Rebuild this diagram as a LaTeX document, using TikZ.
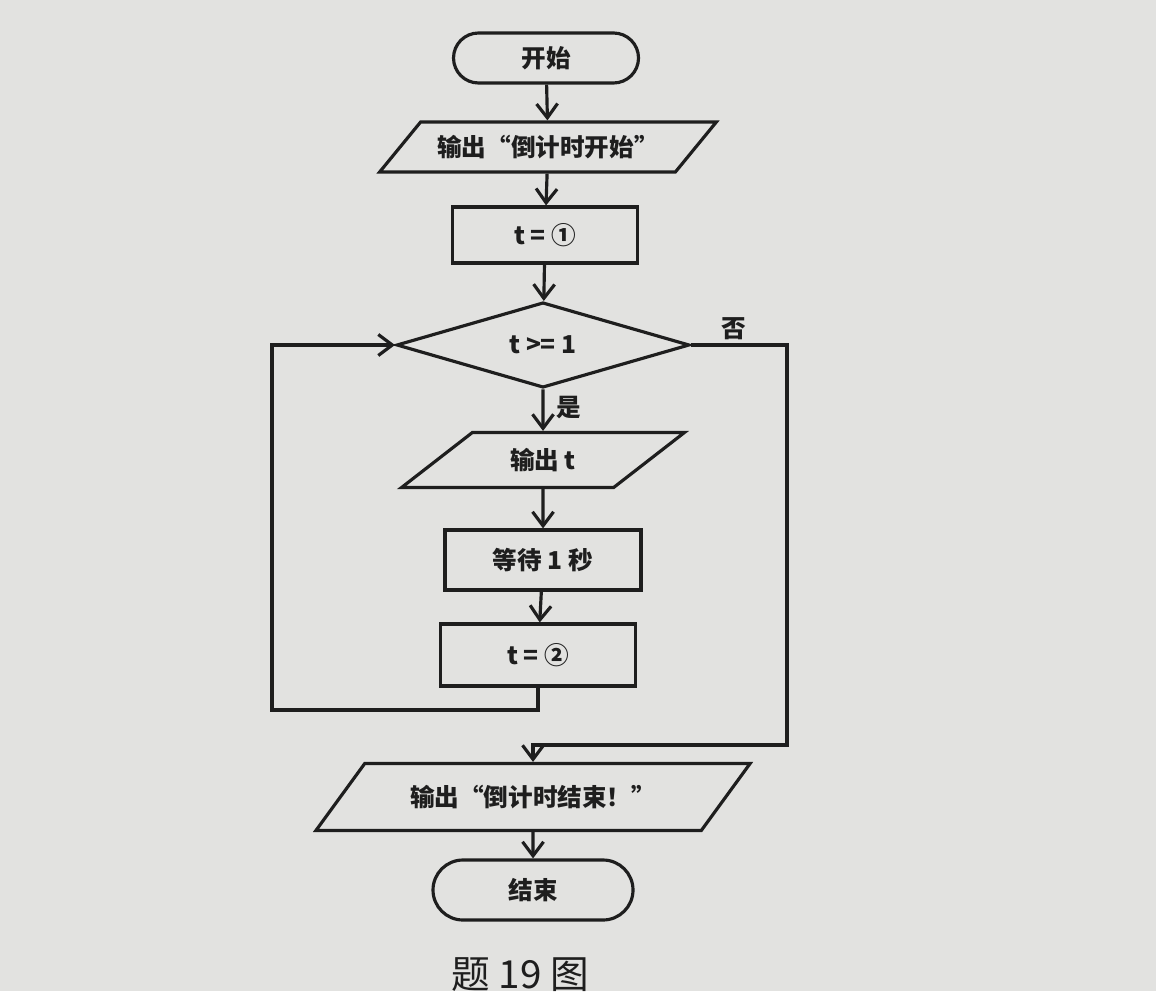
\documentclass[tikz,border=0pt]{standalone}
\usepackage{fontspec}
\setmainfont{Noto Sans CJK SC}
\usetikzlibrary{shapes.geometric,arrows.meta}
\definecolor{paper}{RGB}{226,226,224}
\definecolor{ink}{RGB}{30,30,30}

\begin{document}
\begin{tikzpicture}[>={Straight Barb[length=1.4mm,width=2.1mm]},
  line width=0.9pt,draw=ink,
  every node/.style={font=\fontsize{7}{8}\selectfont\bfseries,text=ink},
  term/.style={draw=ink,rectangle,rounded corners=0.25cm,minimum width=1.85cm,minimum height=0.5cm},
  proc/.style={draw=ink,rectangle,minimum width=1.85cm,minimum height=0.56cm},
  io/.style={draw=ink,trapezium,trapezium left angle=40,trapezium right angle=140,trapezium stretches=true,inner sep=1pt},
  test/.style={draw=ink,diamond,minimum width=2.93cm,minimum height=0.8cm,inner sep=0pt},
  flow/.style={->,ink}]
  % paper
  \fill[paper] (0,0) rectangle (11.56,-9.91);
  \useasboundingbox (0,0) rectangle (11.56,-9.91);
  % boxes
  \node[term] (start) at (5.46,-0.58) {开始};
  \node[io,minimum width=3.38cm,minimum height=0.5cm] (out1) at (5.48,-1.47) {输出“倒计时开始”};
  \node[proc] (init) at (5.45,-2.35) {t = ①};
  \node[test] (cond) at (5.43,-3.45) {t >= 1};
  \node[io,minimum width=2.83cm,minimum height=0.55cm] (outt) at (5.43,-4.60) {输出 t};
  \node[proc,minimum width=1.96cm,minimum height=0.6cm] (wait) at (5.43,-5.60) {等待 1 秒};
  \node[proc,minimum width=1.95cm,minimum height=0.62cm] (incr) at (5.38,-6.55) {t = ②};
  \node[io,minimum width=4.37cm,minimum height=0.67cm] (outend) at (5.33,-7.97) {输出“倒计时结束！”};
  \node[term,minimum width=2.0cm,minimum height=0.6cm,rounded corners=0.3cm] (stop) at (5.33,-8.90) {结束};
  % helper points
  \coordinate (loopL) at (2.72,-7.10);
  \coordinate (noR) at (7.87,-7.45);
  % connectors
  \draw[flow] (start) -- (out1);
  \draw[flow] (out1) -- (init);
  \draw[flow] (init) -- (cond);
  \draw[flow] (cond) -- node[right,pos=0.45]{是} (outt);
  \draw[flow] (outt) -- (wait);
  \draw[flow] (wait) -- (incr);
  \draw[flow] (incr.south) |- (loopL) |- (cond.west);
  \draw[flow] (cond.east) -| node[above,pos=0.22,inner sep=1pt]{否} (noR) -| (outend.north);
  \draw[flow] (outend) -- (stop);
  % caption
  \node[font=\fontsize{11}{12}\selectfont,text=ink] (cap) at (5.20,-9.75) {题 19 图};
\end{tikzpicture}
\end{document}
